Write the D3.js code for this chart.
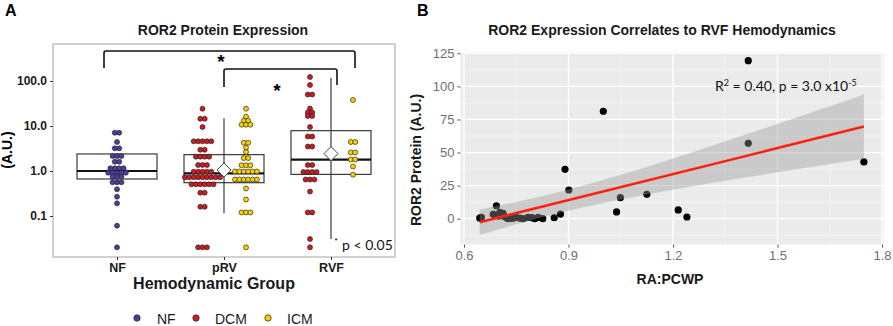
<!DOCTYPE html>
<html><head><meta charset="utf-8">
<script src="https://cdn.jsdelivr.net/npm/d3@7/dist/d3.min.js"></script>
<style>body{margin:0;background:#fff}svg{display:block}</style>
</head><body><svg id="c" width="893" height="326"></svg>
<script>
// ---------- Panel A data ----------
const groups = ["NF", "pRV", "RVF"];
const legendTypes = ["NF", "DCM", "ICM"];
const typeColors = ["#4a3f9a", "#c81d22", "#f5cf00"];
const nfValues = [7.1,7.1,4.41,3.19,3.19,2.15,2.15,2.15,1.61,1.61,1.15,1.15,1.15,1.15,
  0.917,0.917,0.917,0.917,0.917,0.747,0.747,0.747,0.561,0.561,0.561,0.392,0.268,0.191,0.0609,0.0201];
const prvDcmValues = [24.2,14.5,14.5,9.5,4.57,4.57,4.57,4.57,4.57,2.97,2.97,2.08,2.08,2.08,2.08,
  1.36,1.36,1.36,0.965,0.965,0.965,0.965,0.965,0.724,0.724,0.724,0.724,0.724,0.724,0.724,0.724,0.724,
  0.506,0.506,0.506,0.506,0.506,0.506,0.33,0.33,0.161,0.161,0.0201,0.0201,0.0201];
const prvIcmValues = [24.2,16.1,13.1,13.1,10.7,10.7,10.7,4.25,4.25,3.3,2.64,1.94,1.94,1.34,1.34,1.34,
  0.975,0.975,0.975,0.975,0.975,0.975,0.647,0.647,0.647,0.647,0.647,0.647,0.409,0.233,0.12,0.12,0.12,0.0201];
const rvfDcmValues = [122.7,81.5,50.1,50.1,24.5,20.0,20.0,16.7,16.7,9.5,5.84,5.84,3.5,3.5,1.36,1.36,
  0.95,0.95,0.95,0.95,0.647,0.647,0.647,0.35,0.12,0.12,0.0308,0.0201];
const rvfIcmValues = [37.8,4.41,4.41,2.58,2.58,1.8,1.8,1.26,0.828];
// box summaries per group: q1, median, q3, whisker low, whisker high, mean
const boxQ1 = [0.664, 0.55, 0.84];
const boxMedian = [1.0, 0.89, 1.79];
const boxQ3 = [2.39, 2.31, 7.87];
const whiskerLow = [null, 0.115, 0.031];
const whiskerHigh = [null, 14.8, 118];
const groupMean = [null, 1.05, 2.43];
const yTicksA = [0.1, 1, 10, 100];

// ---------- Panel B data ----------
const raPcwp = [1.416,1.0,1.416,1.748,0.890,0.901,1.049,1.125,1.038,1.215,1.240,0.693,0.645,0.650,0.684,
  0.703,0.712,0.717,0.726,0.736,0.748,0.760,0.770,0.784,0.795,0.803,0.813,0.826,0.859,0.877,0.690,0.700,0.722,0.742];
const ror2Protein = [119.4,81.2,57.0,42.9,37.3,21.7,15.9,18.4,5.1,6.6,1.3,9.8,0.5,1.0,3.3,
  4.8,4.0,1.5,0,0.3,1.2,0.5,0,1,0.8,0,1,0,0.7,3.5,2.5,2,1,0.5];
const fitSlope = 65.5, fitIntercept = -44.9;
const fitRange = [0.645, 1.748];
const ciCenterX = 0.86, ciA = 63.4, ciB = 662.3; // half-width^2 = A + B (x - xc)^2
const xTicksB = [0.6, 0.9, 1.2, 1.5, 1.8];
const xMinorB = [0.75, 1.05, 1.35, 1.65];
const yTicksB = [0, 25, 50, 75, 100, 125];
const yMinorB = [-12.5, 12.5, 37.5, 62.5, 87.5, 112.5];

const svg = d3.select("#c");
const F = "'Liberation Sans', Arial, sans-serif";
svg.append("rect").attr("width", 893).attr("height", 326).attr("fill", "#fff");

// ================= Panel A =================
const A = {l: 53, r: 395, t: 44, b: 257};
const yA = d3.scaleLog().domain([0.1, 100]).range([216, 81]);
const xA = d3.scalePoint().domain(groups).range([117, 331]);
const gA = svg.append("g");

gA.append("text").attr("x", 5).attr("y", 16).attr("font-family", F).attr("font-weight", "bold")
  .attr("font-size", 16).text("A");
gA.append("text").attr("x", 223).attr("y", 35).attr("text-anchor", "middle").attr("font-family", F)
  .attr("font-weight", "bold").attr("font-size", 14).attr("fill", "#1a1a1a").text("ROR2 Protein Expression");
gA.append("rect").attr("x", A.l).attr("y", A.t).attr("width", A.r - A.l).attr("height", A.b - A.t)
  .attr("fill", "#fff").attr("stroke", "#c2c2c2").attr("stroke-width", 1.5);

const axL = gA.append("g").attr("transform", `translate(${A.l},0)`)
  .call(d3.axisLeft(yA).tickValues(yTicksA).tickFormat(d3.format(".1f")).tickSize(3).tickPadding(3));
axL.select(".domain").remove();
axL.selectAll("text").attr("font-family", F).attr("font-weight", "bold").attr("font-size", 12).attr("fill", "#1a1a1a");
axL.selectAll("line").attr("stroke", "#333");
const axB = gA.append("g").attr("transform", `translate(0,${A.b})`)
  .call(d3.axisBottom(xA).tickSize(3).tickPadding(3));
axB.select(".domain").remove();
axB.selectAll("text").attr("font-family", F).attr("font-weight", "bold").attr("font-size", 12.5).attr("fill", "#1a1a1a");
axB.selectAll("line").attr("stroke", "#333");

gA.append("text").attr("transform", "translate(12,150) rotate(-90)").attr("text-anchor", "middle")
  .attr("font-family", F).attr("font-weight", "bold").attr("font-size", 14).text("(A.U.)");
gA.append("text").attr("x", 214).attr("y", 289).attr("text-anchor", "middle").attr("font-family", F)
  .attr("font-weight", "bold").attr("font-size", 16).attr("fill", "#1a1a1a").text("Hemodynamic Group");

// boxes
const boxW = 80;
groups.forEach((g, i) => {
  const cx = xA(g);
  gA.append("rect").attr("x", cx - boxW / 2).attr("y", yA(boxQ3[i])).attr("width", boxW)
    .attr("height", yA(boxQ1[i]) - yA(boxQ3[i])).attr("fill", "none").attr("stroke", "#3a3a3a").attr("stroke-width", 1.2);
  gA.append("line").attr("x1", cx - boxW / 2).attr("x2", cx + boxW / 2).attr("y1", yA(boxMedian[i])).attr("y2", yA(boxMedian[i]))
    .attr("stroke", "#111").attr("stroke-width", 2.2);
  if (whiskerLow[i] != null) {
    gA.append("line").attr("x1", cx).attr("x2", cx).attr("y1", yA(whiskerHigh[i])).attr("y2", yA(whiskerLow[i]))
      .attr("stroke", "#3a3a3a").attr("stroke-width", 1.2);
  }
});

// dots
const subsets = [
  {g: "NF", t: 0, vals: nfValues, off: 0},
  {g: "pRV", t: 1, vals: prvDcmValues, off: -21.5},
  {g: "pRV", t: 2, vals: prvIcmValues, off: 22},
  {g: "RVF", t: 1, vals: rvfDcmValues, off: -21},
  {g: "RVF", t: 2, vals: rvfIcmValues, off: 22},
];
const spacing = 4.4, rDot = 2.5;
subsets.forEach(s => {
  const rows = d3.rollup(s.vals, v => v.length, d => d);
  rows.forEach((n, v) => {
    for (let k = 0; k < n; k++) {
      gA.append("circle").attr("cx", xA(s.g) + s.off + (k - (n - 1) / 2) * spacing).attr("cy", yA(v))
        .attr("r", rDot).attr("fill", typeColors[s.t]).attr("stroke", "#222").attr("stroke-width", 0.65);
    }
  });
});

// mean diamonds
groups.forEach((g, i) => {
  if (groupMean[i] == null) return;
  const cx = xA(g), cy = yA(groupMean[i]), d = 7;
  gA.append("path").attr("d", `M${cx},${cy - d}L${cx + d},${cy}L${cx},${cy + d}L${cx - d},${cy}Z`)
    .attr("fill", "#fff").attr("stroke", "#444").attr("stroke-width", 1);
});

// significance brackets
const br = (x1, x2, y, l1, l2) => `M${x1},${y + l1}V${y + 2}Q${x1},${y} ${x1 + 2},${y}H${x2 - 2}Q${x2},${y} ${x2},${y + 2}V${y + l2}`;
gA.append("path").attr("d", br(xA("NF") - 13, xA("RVF") + 24, 51, 17, 17)).attr("fill", "none").attr("stroke", "#111").attr("stroke-width", 1.6);
gA.append("path").attr("d", br(xA("pRV"), xA("RVF") + 6, 69, 18, 16)).attr("fill", "none").attr("stroke", "#111").attr("stroke-width", 1.6);
gA.append("text").attr("x", 221).attr("y", 68).attr("text-anchor", "middle").attr("font-family", F).attr("font-weight", "bold").attr("font-size", 19).text("*");
gA.append("text").attr("x", 277).attr("y", 97).attr("text-anchor", "middle").attr("font-family", F).attr("font-weight", "bold").attr("font-size", 19).text("*");
gA.append("text").attr("x", 336).attr("y", 243).attr("text-anchor", "middle").attr("font-family", F).attr("font-size", 8).text("*");
gA.append("text").attr("x", 342).attr("y", 250).attr("font-family", "Lato, 'Open Sans', sans-serif").attr("font-size", 14).attr("fill", "#111").text("p < 0.05");

// legend
const legX = [137, 196, 268], legTX = [157, 215, 287];
legendTypes.forEach((t, i) => {
  gA.append("circle").attr("cx", legX[i]).attr("cy", 318).attr("r", 3.2).attr("fill", typeColors[i]).attr("stroke", "#222").attr("stroke-width", 0.7);
  gA.append("text").attr("x", legTX[i]).attr("y", 323.5).attr("font-family", F).attr("font-size", 14).attr("fill", "#1a1a1a").text(t);
});

// ================= Panel B =================
const xB = d3.scaleLinear().domain([0.6, 1.8]).range([464, 882]);
const yB = d3.scaleLinear().domain([0, 125]).range([218.7, 53.3]);
const gB = svg.append("g");
const px0 = xB(0.59), px1 = xB(1.805), py0 = yB(125.6), py1 = yB(-19.6);

gB.append("text").attr("x", 417).attr("y", 16).attr("font-family", F).attr("font-weight", "bold").attr("font-size", 16).text("B");
gB.append("text").attr("x", 662).attr("y", 35).attr("text-anchor", "middle").attr("font-family", F)
  .attr("font-weight", "bold").attr("font-size", 14).attr("fill", "#1a1a1a").text("ROR2 Expression Correlates to RVF Hemodynamics");
gB.append("rect").attr("x", px0).attr("y", py0).attr("width", px1 - px0).attr("height", py1 - py0).attr("fill", "#ebebeb");
xMinorB.forEach(v => gB.append("line").attr("x1", xB(v)).attr("x2", xB(v)).attr("y1", py0).attr("y2", py1).attr("stroke", "#fafafa").attr("stroke-width", 0.6));
yMinorB.forEach(v => gB.append("line").attr("y1", yB(v)).attr("y2", yB(v)).attr("x1", px0).attr("x2", px1).attr("stroke", "#fafafa").attr("stroke-width", 0.6));
xTicksB.forEach(v => gB.append("line").attr("x1", xB(v)).attr("x2", xB(v)).attr("y1", py0).attr("y2", py1).attr("stroke", "#fff").attr("stroke-width", 1.3));
yTicksB.forEach(v => gB.append("line").attr("y1", yB(v)).attr("y2", yB(v)).attr("x1", px0).attr("x2", px1).attr("stroke", "#fff").attr("stroke-width", 1.3));

const axLB = gB.append("g").attr("transform", `translate(${px0},0)`).call(d3.axisLeft(yB).tickValues(yTicksB).tickSize(3).tickPadding(3));
axLB.select(".domain").remove();
axLB.selectAll("text").attr("font-family", F).attr("font-size", 13).attr("fill", "#707070");
axLB.selectAll("line").attr("stroke", "#555");
const axBB = gB.append("g").attr("transform", `translate(0,${py1})`).call(d3.axisBottom(xB).tickValues(xTicksB).tickFormat(d3.format(".1f")).tickSize(3).tickPadding(3));
axBB.select(".domain").remove();
axBB.selectAll("text").attr("font-family", F).attr("font-size", 13).attr("fill", "#707070");
axBB.selectAll("line").attr("stroke", "#555");

gB.append("text").attr("transform", "translate(421,160) rotate(-90)").attr("text-anchor", "middle")
  .attr("font-family", F).attr("font-weight", "bold").attr("font-size", 14).attr("fill", "#1a1a1a").text("ROR2 Protein (A.U.)");
gB.append("text").attr("x", 670).attr("y", 284).attr("text-anchor", "middle").attr("font-family", F)
  .attr("font-weight", "bold").attr("font-size", 14).attr("fill", "#1a1a1a").text("RA:PCWP");

// points
raPcwp.forEach((x, i) => gB.append("circle").attr("cx", xB(x)).attr("cy", yB(ror2Protein[i])).attr("r", 3.6).attr("fill", "#000"));

// CI ribbon and fit line
const fx = d3.range(0, 61).map(k => fitRange[0] + (fitRange[1] - fitRange[0]) * k / 60);
const fit = x => fitIntercept + fitSlope * x;
const hw = x => Math.sqrt(ciA + ciB * (x - ciCenterX) ** 2);
gB.append("path").datum(fx).attr("d", d3.area().x(d => xB(d)).y0(d => yB(fit(d) - hw(d))).y1(d => yB(fit(d) + hw(d))))
  .attr("fill", "#999").attr("fill-opacity", 0.4);
gB.append("path").datum(fitRange).attr("d", d3.line().x(d => xB(d)).y(d => yB(fit(d))))
  .attr("stroke", "#ff2212").attr("stroke-width", 2.6).attr("fill", "none");

const ann = gB.append("text").attr("x", 715).attr("y", 91).attr("font-family", "Lato, 'Open Sans', sans-serif").attr("font-size", 14).attr("fill", "#111");
ann.append("tspan").text("R");
ann.append("tspan").attr("dy", -5).attr("font-size", 9).text("2");
ann.append("tspan").attr("dy", 5).text(" = 0.40, p = 3.0 x10");
ann.append("tspan").attr("dy", -5).attr("font-size", 9).text("-5");
</script></body></html>
